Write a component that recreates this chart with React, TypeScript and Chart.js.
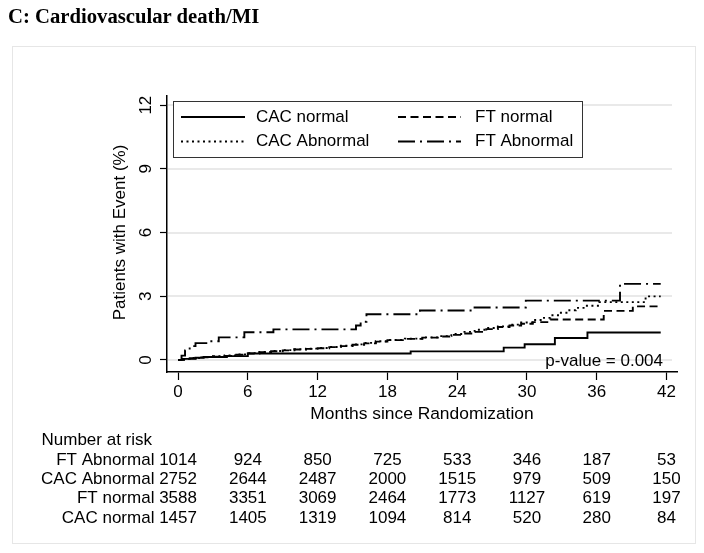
import React, { useEffect, useRef } from "react";
import { Chart, registerables } from "chart.js";

Chart.register(...registerables);

// ---- data ----
const monthTicks = [0, 6, 12, 18, 24, 30, 36, 42];
const yTicks = [0, 3, 6, 9, 12];

const cacNormalT = [0, 0.4, 1.5, 2.2, 4.2, 6.0, 20.0, 28.0, 29.8, 32.4, 35.2, 41.5];
const cacNormalV = [0, 0.05, 0.1, 0.14, 0.18, 0.3, 0.4, 0.58, 0.74, 1.03, 1.29, 1.29];

const ftNormalT = [0, 0.5, 1, 2, 3, 4, 5, 6, 7, 8, 9, 10, 11, 12, 13, 14, 15, 16, 17, 18, 19.5, 21, 22.5, 23.5, 24.5, 25.5, 26.5, 27.5, 28.5, 29.5, 30.5, 32, 36.6, 39.1, 41.5];
const ftNormalV = [0, 0.04, 0.08, 0.12, 0.15, 0.19, 0.24, 0.3, 0.36, 0.41, 0.45, 0.49, 0.52, 0.55, 0.6, 0.65, 0.71, 0.78, 0.86, 0.93, 0.99, 1.05, 1.1, 1.18, 1.24, 1.32, 1.45, 1.55, 1.62, 1.7, 1.78, 1.9, 2.31, 2.52, 2.52];

const cacAbnT = [0, 0.5, 1, 2, 3, 4, 5, 6, 7, 8, 9, 10, 11, 12, 13, 14, 15, 16, 17, 18, 19.5, 21, 22.5, 23.5, 24.5, 25.5, 26.5, 27.5, 28.5, 29.5, 30.5, 31.3, 32, 32.8, 33.5, 34.2, 35, 36.2, 40.2, 41.5];
const cacAbnV = [0, 0.05, 0.09, 0.13, 0.17, 0.21, 0.26, 0.32, 0.37, 0.42, 0.46, 0.5, 0.53, 0.56, 0.61, 0.67, 0.73, 0.8, 0.88, 0.94, 1.0, 1.06, 1.12, 1.22, 1.32, 1.42, 1.5, 1.58, 1.66, 1.76, 1.88, 1.98, 2.1, 2.22, 2.34, 2.45, 2.55, 2.72, 2.99, 2.99];

const ftAbnT = [0, 0.3, 0.6, 1.0, 1.5, 2.6, 3.5, 5.7, 8.2, 15.3, 15.7, 16.2, 20.8, 25.3, 29.9, 38.0, 41.5];
const ftAbnV = [0, 0.2, 0.45, 0.65, 0.79, 0.88, 1.06, 1.3, 1.44, 1.62, 1.8, 2.15, 2.33, 2.47, 2.79, 3.58, 3.58];

const riskGroups = ["FT Abnormal", "CAC Abnormal", "FT normal", "CAC normal"];
const riskFTAbnormal = [1014, 924, 850, 725, 533, 346, 187, 53];
const riskCACAbnormal = [2752, 2644, 2487, 2000, 1515, 979, 509, 150];
const riskFTNormal = [3588, 3351, 3069, 2464, 1773, 1127, 619, 197];
const riskCACNormal = [1457, 1405, 1319, 1094, 814, 520, 280, 84];

const titleText = "C: Cardiovascular death/MI";
const yTitle = "Patients with Event (%)";
const xTitle = "Months since Randomization";
const pValueText = "p-value = 0.004";
const riskHeader = "Number at risk";

const FONT = "'Liberation Sans', Arial, Helvetica, sans-serif";

const pts = (t: number[], v: number[]) => t.map((x, i) => ({ x, y: v[i] }));

export default function App() {
  const ref = useRef<HTMLCanvasElement | null>(null);

  useEffect(() => {
    if (!ref.current) return;
    const riskRows = [riskFTAbnormal, riskCACAbnormal, riskFTNormal, riskCACNormal];

    const overlay = {
      id: "overlay",
      beforeDraw(chart: any) {
        const ctx = chart.ctx;
        ctx.save();
        ctx.fillStyle = "#fff";
        ctx.fillRect(0, 0, chart.width, chart.height);
        ctx.strokeStyle = "#e6e6e6";
        ctx.lineWidth = 1;
        ctx.strokeRect(12.5, 46.5, 683, 497);
        ctx.restore();
      },
      beforeDatasetsDraw(chart: any) {
        const ctx = chart.ctx;
        const y = chart.scales.y;
        const a = chart.chartArea;
        ctx.save();
        ctx.strokeStyle = "#e9e9e9";
        ctx.lineWidth = 2;
        yTicks.forEach((v) => {
          const py = Math.round(y.getPixelForValue(v));
          ctx.beginPath();
          ctx.moveTo(a.left + 1, py);
          ctx.lineTo(a.right - 5, py);
          ctx.stroke();
        });
        ctx.restore();
      },
      afterDatasetsDraw(chart: any) {
        const ctx = chart.ctx;
        const xs = chart.scales.x;
        const ys = chart.scales.y;
        const a = chart.chartArea;
        ctx.save();
        ctx.fillStyle = "#000";

        // legend
        const lx = 173.5, ly = 101.5, lw = 409, lh = 56;
        ctx.fillStyle = "#fff";
        ctx.fillRect(lx, ly, lw, lh);
        ctx.strokeStyle = "#333";
        ctx.lineWidth = 1;
        ctx.strokeRect(lx, ly, lw, lh);
        const ds = chart.data.datasets;
        const legendPos = [
          { i: 0, sx: 181, ex: 245, tx: 256, y: 117 },
          { i: 1, sx: 398, ex: 461, tx: 475, y: 117 },
          { i: 2, sx: 181, ex: 245, tx: 256, y: 141.5 },
          { i: 3, sx: 398, ex: 461, tx: 475, y: 141.5 },
        ];
        ctx.font = `17px ${FONT}`;
        ctx.textBaseline = "middle";
        ctx.textAlign = "left";
        legendPos.forEach((p) => {
          const d = ds[p.i];
          ctx.strokeStyle = d.borderColor;
          ctx.lineWidth = d.borderWidth;
          ctx.setLineDash(d.borderDash || []);
          ctx.beginPath();
          ctx.moveTo(p.sx, p.y);
          ctx.lineTo(p.ex, p.y);
          ctx.stroke();
          ctx.setLineDash([]);
          ctx.fillStyle = "#000";
          ctx.fillText(d.label, p.tx, p.y);
        });

        // p-value
        ctx.textAlign = "right";
        ctx.fillText(pValueText, 663, 361);

        // x tick labels
        ctx.textAlign = "center";
        monthTicks.forEach((m) => {
          ctx.fillText(String(m), xs.getPixelForValue(m), 392);
        });
        // x title
        ctx.font = `17.4px ${FONT}`;
        ctx.fillText(xTitle, (a.left + a.right) / 2, 414);

        // y tick labels (rotated)
        ctx.font = `17px ${FONT}`;
        yTicks.forEach((v) => {
          ctx.save();
          ctx.translate(146, ys.getPixelForValue(v));
          ctx.rotate(-Math.PI / 2);
          ctx.textAlign = "center";
          ctx.fillText(String(v), 0, 0);
          ctx.restore();
        });
        // y title
        ctx.save();
        ctx.translate(120, 232.5);
        ctx.rotate(-Math.PI / 2);
        ctx.textAlign = "center";
        ctx.fillText(yTitle, 0, 0);
        ctx.restore();

        // number at risk table
        ctx.textAlign = "left";
        ctx.fillText(riskHeader, 41.5, 440);
        riskRows.forEach((row, r) => {
          const yy = 460 + r * 19.3;
          row.forEach((n, j) => {
            const px = xs.getPixelForValue(monthTicks[j]);
            if (j === 0) {
              const w = ctx.measureText(String(n)).width;
              ctx.textAlign = "right";
              ctx.fillText(`${riskGroups[r]} ${n}`, px + w / 2, yy);
            } else {
              ctx.textAlign = "center";
              ctx.fillText(String(n), px, yy);
            }
          });
        });
        ctx.restore();
      },
    };

    const chart = new Chart(ref.current, {
      type: "line",
      data: {
        datasets: [
          {
            label: "CAC normal",
            data: pts(cacNormalT, cacNormalV),
            borderColor: "#000",
            borderWidth: 1.9,
            borderDash: [],
            stepped: true,
            pointRadius: 0,
            fill: false,
          },
          {
            label: "FT normal",
            data: pts(ftNormalT, ftNormalV),
            borderColor: "#000",
            borderWidth: 1.9,
            borderDash: [8, 4.5],
            stepped: true,
            pointRadius: 0,
            fill: false,
          },
          {
            label: "CAC Abnormal",
            data: pts(cacAbnT, cacAbnV),
            borderColor: "#000",
            borderWidth: 1.9,
            borderDash: [2, 3.5],
            stepped: true,
            pointRadius: 0,
            fill: false,
          },
          {
            label: "FT Abnormal",
            data: pts(ftAbnT, ftAbnV),
            borderColor: "#000",
            borderWidth: 1.9,
            borderDash: [17, 5, 2, 5],
            stepped: true,
            pointRadius: 0,
            fill: false,
          },
        ] as any,
      },
      options: {
        animation: false,
        responsive: false,
        maintainAspectRatio: false,
        layout: { padding: { left: 0, top: 96, right: 27, bottom: 553 - 372 - 8 } },
        plugins: { legend: { display: false }, tooltip: { enabled: false } },
        scales: {
          x: {
            type: "linear",
            min: -0.95,
            max: 42.9,
            afterBuildTicks: (s: any) => {
              s.ticks = monthTicks.map((v) => ({ value: v }));
            },
            afterFit: (s: any) => {
              s.height = 8;
            },
            grid: { drawOnChartArea: false, tickLength: 8, tickColor: "#000", tickWidth: 1.2 },
            border: { color: "#000", width: 1.5 },
            ticks: { display: false },
          },
          y: {
            type: "linear",
            min: -0.57,
            max: 12.43,
            afterBuildTicks: (s: any) => {
              s.ticks = yTicks.map((v) => ({ value: v }));
            },
            afterFit: (s: any) => {
              s.width = 167;
            },
            grid: { drawOnChartArea: false, tickLength: 7, tickColor: "#000", tickWidth: 1.2 },
            border: { color: "#000", width: 1.5 },
            ticks: { display: false },
          },
        },
      } as any,
      plugins: [overlay],
    });
    return () => chart.destroy();
  }, []);

  return (
    <div style={{ position: "absolute", left: 0, top: 0, width: 704, height: 553, background: "#fff" }}>
      <canvas ref={ref} width={704} height={553} style={{ position: "absolute", left: 0, top: 0, display: "block" }} />
      <div
        style={{
          position: "absolute",
          left: 8,
          top: 5,
          font: "bold 20.7px 'Liberation Serif', 'Times New Roman', serif",
          lineHeight: "23px",
          color: "#000",
          whiteSpace: "nowrap",
        }}
      >
        {titleText}
      </div>
    </div>
  );
}
